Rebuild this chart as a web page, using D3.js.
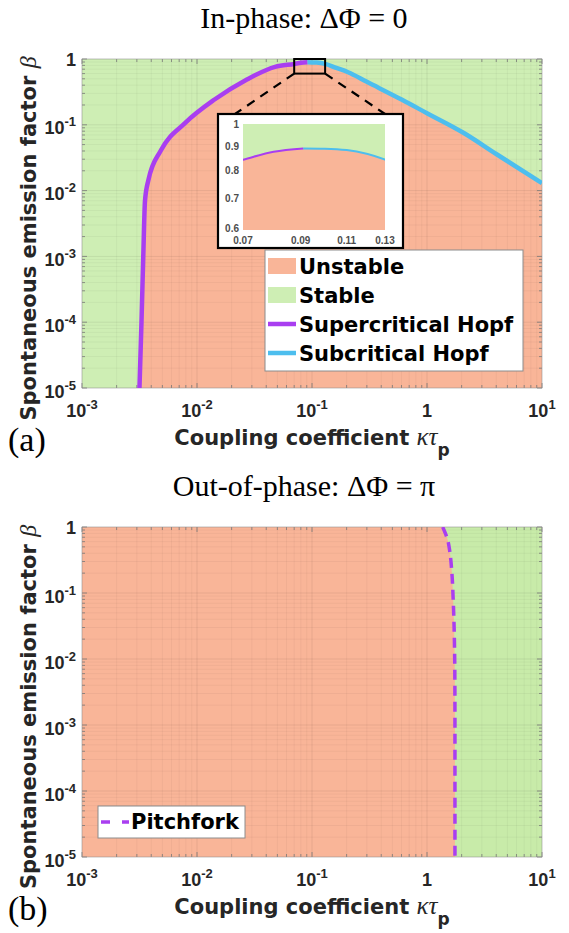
<!DOCTYPE html>
<html>
<head>
<meta charset="utf-8">
<script src="https://cdn.jsdelivr.net/npm/d3@7"></script>
<style>
  body { margin: 0; background: #fff; }
  svg { display: block; }
</style>
</head>
<body>
<svg id="fig" width="569" height="933"></svg>
<script>
// (a) in-phase: stability boundary, supercritical Hopf branch
const superKappa = [0.00316, 0.00329, 0.00341, 0.00353, 0.00378, 0.00486, 0.0079, 0.0141, 0.0267, 0.0477, 0.07, 0.08, 0.091];
const superBeta  = [1e-5, 1e-4, 1e-3, 7e-3, 0.0145, 0.041, 0.107, 0.24, 0.48, 0.76, 0.842, 0.875, 0.889];
// (a) subcritical Hopf branch
const subKappa = [0.091, 0.1, 0.11, 0.13, 0.16, 0.206, 0.3, 0.607, 1, 2.09, 4, 10];
const subBeta  = [0.889, 0.888, 0.882, 0.842, 0.74, 0.63, 0.45, 0.24, 0.15, 0.075, 0.036, 0.013];
// (b) out-of-phase: pitchfork boundary
const pitchKappa = [1.37, 1.514, 1.585, 1.64, 1.69, 1.747, 1.75, 1.75];
const pitchBeta  = [1, 0.635, 0.404, 0.22, 0.078, 0.0047, 1e-3, 1e-5];

const kappaTicks = [1e-3, 1e-2, 1e-1, 1, 10];
const betaTicks = [1e-5, 1e-4, 1e-3, 1e-2, 1e-1, 1];
const insetKappaTicks = [0.07, 0.09, 0.11, 0.13];
const insetBetaTicks = [0.6, 0.7, 0.8, 0.9, 1];
const topLegend = ["Unstable", "Stable", "Supercritical Hopf", "Subcritical Hopf"];
const bottomLegend = ["Pitchfork"];

const sans = "'DejaVu Sans', sans-serif";
const tickFont = "'Liberation Sans', Arial, sans-serif";
const serif = "'Liberation Serif', 'Times New Roman', serif";
const cUnstable = "#F9B598";
const cStable = "#CEEEB4";
const cSuper = "#A93EF0";
const cSub = "#4DBEEE";

const svg = d3.select("#fig");
const defs = svg.append("defs");

const plotL = 82, plotR = 542;

const isMajor = d => Math.abs(Math.log10(d) - Math.round(Math.log10(d))) < 1e-6;

function makePanel(top, bottom, id) {
  const x = d3.scaleLog().domain([1e-3, 10]).range([plotL, plotR]);
  const y = d3.scaleLog().domain([1e-5, 1]).range([bottom, top]);
  defs.append("clipPath").attr("id", id).append("rect")
    .attr("x", plotL).attr("y", top).attr("width", plotR - plotL).attr("height", bottom - top);
  const g = svg.append("g");
  return {x, y, g, top, bottom, clip: `url(#${id})`};
}

function powLabel(sel, v) {
  const e = Math.round(Math.log10(v));
  if (e === 0) { sel.text("1"); return; }
  sel.text("10");
  sel.append("tspan").attr("dy", -8).attr("font-size", 13).text(e);
}

function gridAndAxes(p) {
  const gg = p.g.append("g").attr("stroke", "#000");
  gg.selectAll(".gx").data(p.x.ticks()).join("line")
    .attr("x1", d => p.x(d)).attr("x2", d => p.x(d))
    .attr("y1", p.top).attr("y2", p.bottom)
    .attr("stroke-width", 0.8)
    .attr("stroke-opacity", d => isMajor(d) ? 0.09 : 0.05);
  gg.selectAll(".gy").data(p.y.ticks()).join("line")
    .attr("y1", d => p.y(d)).attr("y2", d => p.y(d))
    .attr("x1", plotL).attr("x2", plotR)
    .attr("stroke-width", 0.8)
    .attr("stroke-opacity", d => isMajor(d) ? 0.09 : 0.05);

  // small inward ticks on all four sides
  const tk = p.g.append("g").attr("stroke", "#777").attr("stroke-width", 0.8);
  p.x.ticks().forEach(d => {
    const len = isMajor(d) ? 5 : 3;
    tk.append("line").attr("x1", p.x(d)).attr("x2", p.x(d)).attr("y1", p.bottom).attr("y2", p.bottom - len);
    tk.append("line").attr("x1", p.x(d)).attr("x2", p.x(d)).attr("y1", p.top).attr("y2", p.top + len);
  });
  p.y.ticks().forEach(d => {
    const len = isMajor(d) ? 5 : 3;
    tk.append("line").attr("y1", p.y(d)).attr("y2", p.y(d)).attr("x1", plotL).attr("x2", plotL + len);
    tk.append("line").attr("y1", p.y(d)).attr("y2", p.y(d)).attr("x1", plotR).attr("x2", plotR - len);
  });
  p.g.append("rect")
    .attr("x", plotL).attr("y", p.top).attr("width", plotR - plotL).attr("height", p.bottom - p.top)
    .attr("fill", "none").attr("stroke", "#999").attr("stroke-opacity", 0.6).attr("stroke-width", 0.8);

  // tick labels
  p.g.append("g").selectAll("text").data(kappaTicks).join("text")
    .attr("x", d => p.x(d)).attr("y", p.bottom + 29)
    .attr("text-anchor", "middle")
    .attr("font-family", tickFont).attr("font-weight", "bold").attr("font-size", 18)
    .attr("fill", "#262626")
    .each(function(d) { powLabel(d3.select(this), d); });
  p.g.append("g").selectAll("text").data(betaTicks).join("text")
    .attr("x", 76).attr("y", d => p.y(d) + (d === 1 ? 6.5 : 9.5))
    .attr("text-anchor", "end")
    .attr("font-family", tickFont).attr("font-weight", "bold").attr("font-size", 18)
    .attr("fill", "#262626")
    .each(function(d) { powLabel(d3.select(this), d); });
}

function axisTitles(p, title, tag) {
  const cx = (plotL + plotR) / 2;
  svg.append("text")
    .attr("x", cx - 8).attr("y", p.top - 31)
    .attr("text-anchor", "middle")
    .attr("font-family", serif).attr("font-size", 30)
    .text(title);

  const xl = svg.append("text")
    .attr("x", cx).attr("y", p.bottom + 57)
    .attr("text-anchor", "middle")
    .attr("font-family", sans).attr("font-weight", "bold").attr("font-size", 21)
    .attr("fill", "#262626");
  xl.append("tspan").text("Coupling coefficient ");
  xl.append("tspan").attr("font-family", serif).attr("font-style", "italic")
    .attr("font-weight", "normal").attr("font-size", 25).text("κτ");
  xl.append("tspan").attr("dy", 11).attr("font-size", 17).text("p");

  const yl = svg.append("text")
    .attr("transform", `translate(36,${(p.top + p.bottom) / 2 + 15}) rotate(-90)`)
    .attr("text-anchor", "middle")
    .attr("font-family", sans).attr("font-weight", "bold").attr("font-size", 21)
    .attr("fill", "#262626");
  yl.append("tspan").text("Spontaneous emission factor ");
  yl.append("tspan").attr("font-family", serif).attr("font-style", "italic")
    .attr("font-weight", "normal").attr("font-size", 24).text("β");

  svg.append("text")
    .attr("x", 8).attr("y", p.bottom + 63)
    .attr("font-family", serif).attr("font-size", 34)
    .text(tag);
}

// ---------------- panel (a) ----------------
const pa = makePanel(59, 388, "clipA");
const superPts = superKappa.map((k, i) => [k, superBeta[i]]);
const subPts = subKappa.map((k, i) => [k, subBeta[i]]);
const boundary = superPts.concat(subPts.slice(1));

pa.g.append("rect")
  .attr("x", plotL).attr("y", pa.top).attr("width", plotR - plotL).attr("height", pa.bottom - pa.top)
  .attr("fill", cStable);

const areaA = d3.area()
  .x(d => pa.x(d[0])).y0(pa.bottom).y1(d => pa.y(d[1]))
  .curve(d3.curveMonotoneX);
pa.g.append("path").datum(boundary)
  .attr("clip-path", pa.clip)
  .attr("fill", cUnstable).attr("d", areaA);

gridAndAxes(pa);

const lineA = d3.line().x(d => pa.x(d[0])).y(d => pa.y(d[1])).curve(d3.curveMonotoneX);
const linesA = pa.g.append("g").attr("clip-path", pa.clip).attr("fill", "none").attr("stroke-width", 4.5);
linesA.append("path").datum(subPts).attr("stroke", cSub).attr("d", lineA);
linesA.append("path").datum(superPts).attr("stroke", cSuper).attr("d", lineA);

axisTitles(pa, "In-phase: ΔΦ = 0", "(a)");

// zoom box and inset
const zx0 = pa.x(insetKappaTicks[0]), zx1 = pa.x(insetKappaTicks[insetKappaTicks.length - 1]);
const zy0 = pa.y(1), zy1 = pa.y(0.6);
pa.g.append("rect")
  .attr("x", zx0).attr("y", zy0).attr("width", zx1 - zx0).attr("height", zy1 - zy0)
  .attr("fill", "none").attr("stroke", "#000").attr("stroke-width", 2);

const inset = {boxL: 218, boxR: 403, boxT: 114, boxB: 248, l: 243, r: 385, t: 124, b: 230};
pa.g.append("g").attr("stroke", "#000").attr("stroke-width", 2.2).attr("stroke-dasharray", "9,7")
  .selectAll("line").data([[zx0, inset.l - 8], [zx1, inset.r]]).join("line")
  .attr("x1", d => d[0]).attr("y1", zy1).attr("x2", d => d[1]).attr("y2", inset.boxT);

pa.g.append("rect")
  .attr("x", inset.boxL).attr("y", inset.boxT)
  .attr("width", inset.boxR - inset.boxL).attr("height", inset.boxB - inset.boxT)
  .attr("fill", "#fff").attr("stroke", "#000").attr("stroke-width", 2.2);

const ix = d3.scaleLog().domain([0.07, 0.13]).range([inset.l, inset.r]);
const iy = d3.scaleLog().domain([0.6, 1]).range([inset.b, inset.t]);
defs.append("clipPath").attr("id", "clipInset").append("rect")
  .attr("x", inset.l).attr("y", inset.t).attr("width", inset.r - inset.l).attr("height", inset.b - inset.t);
const ig = pa.g.append("g");
ig.append("rect")
  .attr("x", inset.l).attr("y", inset.t).attr("width", inset.r - inset.l).attr("height", inset.b - inset.t)
  .attr("fill", cStable);
const icg = ig.append("g").attr("clip-path", "url(#clipInset)");
icg.append("path").datum(boundary).attr("fill", cUnstable)
  .attr("d", d3.area().x(d => ix(d[0])).y0(inset.b).y1(d => iy(d[1])).curve(d3.curveMonotoneX));
const iline = d3.line().x(d => ix(d[0])).y(d => iy(d[1])).curve(d3.curveMonotoneX);
icg.append("path").datum(subPts).attr("fill", "none").attr("stroke", cSub).attr("stroke-width", 2).attr("d", iline);
icg.append("path").datum(superPts).attr("fill", "none").attr("stroke", cSuper).attr("stroke-width", 2).attr("d", iline);

ig.append("g").selectAll("text").data(insetKappaTicks).join("text")
  .attr("x", d => ix(d)).attr("y", inset.b + 14)
  .attr("text-anchor", "middle")
  .attr("font-family", tickFont).attr("font-weight", "bold").attr("font-size", 10)
  .attr("fill", "#4d4d4d")
  .text(d => d.toFixed(2));
ig.append("g").selectAll("text").data(insetBetaTicks).join("text")
  .attr("x", inset.l - 4).attr("y", d => iy(d) + (d === 0.6 ? 2 : 4))
  .attr("text-anchor", "end")
  .attr("font-family", tickFont).attr("font-weight", "bold").attr("font-size", 10)
  .attr("fill", "#4d4d4d")
  .text(d => d === 1 ? "1" : d.toFixed(1));

// legend (a)
const legA = pa.g.append("g");
legA.append("rect")
  .attr("x", 265).attr("y", 250).attr("width", 258).attr("height", 121)
  .attr("fill", "#fff").attr("stroke", "#8c8c8c").attr("stroke-width", 1);
const legRowY = d3.scalePoint().domain(topLegend).range([266, 353]);
const legSwatch = [cUnstable, cStable, cSuper, cSub];
topLegend.forEach((name, i) => {
  const yy = legRowY(name);
  if (i < 2) {
    legA.append("rect").attr("x", 268).attr("y", yy - 8).attr("width", 28).attr("height", 16).attr("fill", legSwatch[i]);
  } else {
    legA.append("line").attr("x1", 268).attr("x2", 296).attr("y1", yy).attr("y2", yy)
      .attr("stroke", legSwatch[i]).attr("stroke-width", 4.5);
  }
  legA.append("text")
    .attr("x", 299).attr("y", yy + 8)
    .attr("font-family", sans).attr("font-weight", "bold").attr("font-size", 21)
    .text(name);
});

// ---------------- panel (b) ----------------
const pb = makePanel(527, 857, "clipB");
const pitchPts = pitchKappa.map((k, i) => [k, pitchBeta[i]]);

pb.g.append("rect")
  .attr("x", plotL).attr("y", pb.top).attr("width", plotR - plotL).attr("height", pb.bottom - pb.top)
  .attr("fill", "#C8EBA9");
pb.g.append("path").datum(pitchPts)
  .attr("clip-path", pb.clip)
  .attr("fill", cUnstable)
  .attr("d", d3.area().y(d => pb.y(d[1])).x0(plotL).x1(d => pb.x(d[0])).curve(d3.curveMonotoneY));

gridAndAxes(pb);

pb.g.append("path").datum(pitchPts)
  .attr("clip-path", pb.clip)
  .attr("fill", "none").attr("stroke", cSuper).attr("stroke-width", 3.5)
  .attr("stroke-dasharray", "10,6")
  .attr("d", d3.line().x(d => pb.x(d[0])).y(d => pb.y(d[1])).curve(d3.curveMonotoneY));

axisTitles(pb, "Out-of-phase: ΔΦ = π", "(b)");

// legend (b)
const legB = pb.g.append("g");
legB.append("rect")
  .attr("x", 98).attr("y", 806).attr("width", 147).attr("height", 32)
  .attr("fill", "#fff").attr("stroke", "#8c8c8c").attr("stroke-width", 1);
legB.append("line").attr("x1", 101).attr("x2", 129).attr("y1", 822).attr("y2", 822)
  .attr("stroke", cSuper).attr("stroke-width", 3.5).attr("stroke-dasharray", "9,12");
legB.append("text")
  .attr("x", 131).attr("y", 829)
  .attr("font-family", sans).attr("font-weight", "bold").attr("font-size", 21)
  .text(bottomLegend[0]);
</script>
</body>
</html>
